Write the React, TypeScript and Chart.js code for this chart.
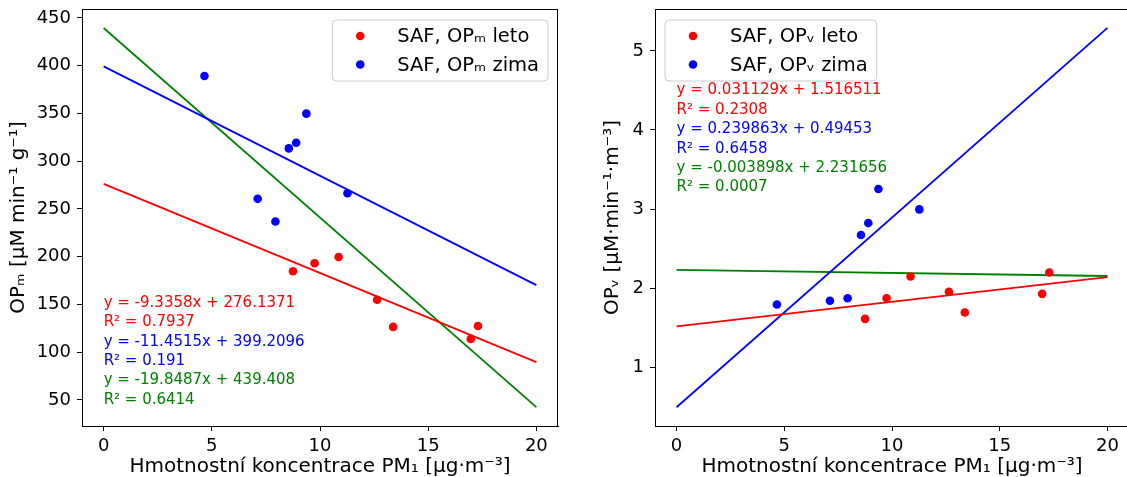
import React, { useEffect, useRef } from "react";
import { Chart, registerables } from "chart.js";

Chart.register(...registerables);

const FONT = "'DejaVu Sans', 'Liberation Sans', sans-serif";

// ---------- data ----------
const xTicks = [0, 5, 10, 15, 20];
const opmTicks = [50, 100, 150, 200, 250, 300, 350, 400, 450];
const opvTicks = [1, 2, 3, 4, 5];

const pmLeto = [8.75, 9.75, 10.86, 12.64, 13.38, 16.97, 17.3];
const pmZima = [4.66, 7.12, 7.94, 8.56, 8.9, 9.37, 11.27];

const opmLeto = [184.6, 193.0, 199.6, 154.8, 126.4, 113.8, 127.4];
const opmZima = [389.2, 260.5, 236.7, 313.3, 319.2, 349.7, 266.4];

const opvLeto = [1.612, 1.873, 2.148, 1.954, 1.692, 1.928, 2.198];
const opvZima = [1.793, 1.84, 1.873, 2.672, 2.823, 3.253, 2.996];

const fitX = [0, 20];
const opmFitLeto = [276.14, 89.42];
const opmFitZima = [399.21, 170.18];
const opmFitAll = [439.41, 42.43];
const opvFitLeto = [1.5165, 2.1391];
const opvFitZima = [0.4945, 5.2918];
const opvFitAll = [2.2317, 2.1537];

const opmNotes = [
  "y = -9.3358x + 276.1371",
  "R² = 0.7937",
  "y = -11.4515x + 399.2096",
  "R² = 0.191",
  "y = -19.8487x + 439.408",
  "R² = 0.6414",
];
const opvNotes = [
  "y = 0.031129x + 1.516511",
  "R² = 0.2308",
  "y = 0.239863x + 0.49453",
  "R² = 0.6458",
  "y = -0.003898x + 2.231656",
  "R² = 0.0007",
];

const opmLabels = ["SAF, OPₘ leto", "SAF, OPₘ zima"];
const opvLabels = ["SAF, OPᵥ leto", "SAF, OPᵥ zima"];

const xTitle = "Hmotnostní koncentrace PM₁ [µg·m⁻³]";
const opmTitle = "OPₘ [µM min⁻¹ g⁻¹]";
const opvTitle = "OPᵥ [µM·min⁻¹·m⁻³]";

// ---------- styles ----------
const RED = "#ff0000";
const BLUE = "#0000ff";
const GREEN = "#008000";
const noteColors = [RED, RED, BLUE, BLUE, GREEN, GREEN];

type PanelSpec = {
  yMin: number;
  yMax: number;
  yTicks: number[];
  yTitle: string;
  yTitlePad: number;
  yAxisWidth: number;
  padRight: number;
  labels: string[];
  leto: number[];
  zima: number[];
  fits: number[][];
  notes: string[];
  noteAnchor: [number, number];
  legendSide: "left" | "right";
};

const pts = (xs: number[], ys: number[]) => xs.map((x, i) => ({ x, y: ys[i] }));

function zeroPad(sc: any) {
  sc.paddingTop = 0;
  sc.paddingBottom = 0;
  sc.paddingLeft = 0;
  sc.paddingRight = 0;
}

function buildConfig(s: PanelSpec): any {
  const fitColors = [RED, BLUE, GREEN];
  const datasets: any[] = [
    {
      label: s.labels[0],
      data: pts(pmLeto, s.leto),
      backgroundColor: RED,
      pointBackgroundColor: RED,
      pointBorderWidth: 0,
      pointRadius: 4.3,
      pointHoverRadius: 4.3,
      showLine: false,
      order: 1,
      isLegend: true,
    },
    {
      label: s.labels[1],
      data: pts(pmZima, s.zima),
      backgroundColor: BLUE,
      pointBackgroundColor: BLUE,
      pointBorderWidth: 0,
      pointRadius: 4.3,
      pointHoverRadius: 4.3,
      showLine: false,
      order: 1,
      isLegend: true,
    },
    ...s.fits.map((f, i) => ({
      label: "fit" + i,
      data: pts(fitX, f),
      borderColor: fitColors[i],
      borderWidth: 1.8,
      pointRadius: 0,
      pointHoverRadius: 0,
      showLine: true,
      fill: false,
      order: 2,
    })),
  ];

  const framePlugin = {
    id: "frame",
    afterDatasetsDraw(chart: any) {
      const { ctx, chartArea: a } = chart;
      ctx.save();
      ctx.strokeStyle = "#000";
      ctx.lineWidth = 1;
      ctx.strokeRect(
        Math.round(a.left) + 0.5,
        Math.round(a.top) + 0.5,
        Math.round(a.right - a.left) - 1,
        Math.round(a.bottom - a.top)
      );
      ctx.restore();
    },
  };

  const notesPlugin = {
    id: "notes",
    afterDatasetsDraw(chart: any) {
      const { ctx, scales } = chart;
      const x0 = scales.x.getPixelForValue(s.noteAnchor[0]);
      const y0 = scales.y.getPixelForValue(s.noteAnchor[1]);
      ctx.save();
      ctx.font = `15px ${FONT}`;
      ctx.textAlign = "left";
      ctx.textBaseline = "middle";
      s.notes.forEach((t, i) => {
        ctx.fillStyle = noteColors[i];
        ctx.fillText(t, x0, y0 + i * 19.4);
      });
      ctx.restore();
    },
  };

  const legendPlugin = {
    id: "mplLegend",
    afterDraw(chart: any) {
      const { ctx, chartArea: a } = chart;
      const items = chart.data.datasets.filter((d: any) => d.isLegend);
      ctx.save();
      ctx.font = `19.5px ${FONT}`;
      const tw = Math.max(...items.map((d: any) => ctx.measureText(d.label).width));
      const w = 65 + tw + 9;
      const h = 61;
      const left = s.legendSide === "right" ? a.right - 10 - w : a.left + 10;
      const top = a.top + 11;
      const r = 4;
      ctx.beginPath();
      ctx.moveTo(left + r, top);
      ctx.lineTo(left + w - r, top);
      ctx.quadraticCurveTo(left + w, top, left + w, top + r);
      ctx.lineTo(left + w, top + h - r);
      ctx.quadraticCurveTo(left + w, top + h, left + w - r, top + h);
      ctx.lineTo(left + r, top + h);
      ctx.quadraticCurveTo(left, top + h, left, top + h - r);
      ctx.lineTo(left, top + r);
      ctx.quadraticCurveTo(left, top, left + r, top);
      ctx.closePath();
      ctx.fillStyle = "rgba(255,255,255,0.8)";
      ctx.fill();
      ctx.strokeStyle = "#cccccc";
      ctx.lineWidth = 1;
      ctx.stroke();
      items.forEach((d: any, i: number) => {
        const cy = top + 16 + i * 28.5;
        ctx.beginPath();
        ctx.arc(left + 28, cy, 4.3, 0, Math.PI * 2);
        ctx.fillStyle = d.backgroundColor;
        ctx.fill();
        ctx.fillStyle = "#000";
        ctx.textAlign = "left";
        ctx.textBaseline = "middle";
        ctx.fillText(d.label, left + 65, cy + 1);
      });
      ctx.restore();
    },
  };

  return {
    type: "scatter",
    data: { datasets },
    plugins: [framePlugin, notesPlugin, legendPlugin],
    options: {
      animation: false,
      responsive: false,
      devicePixelRatio: 1,
      events: [],
      layout: { padding: { left: 0, right: s.padRight, top: 9, bottom: 0 } },
      plugins: {
        legend: { display: false },
        tooltip: { enabled: false },
        title: { display: false },
      },
      scales: {
        x: {
          type: "linear",
          min: -1,
          max: 21,
          afterBuildTicks: (sc: any) => {
            sc.ticks = xTicks.map((v) => ({ value: v }));
          },
          afterFit: (sc: any) => {
            sc.height = 51;
            zeroPad(sc);
          },
          grid: {
            drawOnChartArea: false,
            drawTicks: true,
            tickLength: 5,
            tickColor: "#000",
            tickWidth: 1,
          },
          border: { display: true, color: "#000", width: 1 },
          ticks: {
            color: "#000",
            font: { family: FONT, size: 18 },
            padding: 5,
            maxRotation: 0,
            autoSkip: false,
          },
          title: {
            display: true,
            text: xTitle,
            color: "#000",
            font: { family: FONT, size: 20 },
            padding: { top: 0, bottom: -2 },
          },
        },
        y: {
          type: "linear",
          min: s.yMin,
          max: s.yMax,
          afterBuildTicks: (sc: any) => {
            sc.ticks = s.yTicks.map((v) => ({ value: v }));
          },
          afterFit: (sc: any) => {
            sc.width = s.yAxisWidth;
            zeroPad(sc);
          },
          grid: {
            drawOnChartArea: false,
            drawTicks: true,
            tickLength: 5,
            tickColor: "#000",
            tickWidth: 1,
          },
          border: { display: true, color: "#000", width: 1 },
          ticks: {
            color: "#000",
            font: { family: FONT, size: 18 },
            padding: 6,
            autoSkip: false,
          },
          title: {
            display: true,
            text: s.yTitle,
            color: "#000",
            font: { family: FONT, size: 20 },
            padding: { top: s.yTitlePad, bottom: 0 },
          },
        },
      },
    },
  };
}

const leftSpec: PanelSpec = {
  yMin: 22.6,
  yMax: 459.3,
  yTicks: opmTicks,
  yTitle: opmTitle,
  yTitlePad: 7,
  yAxisWidth: 82,
  padRight: 7,
  labels: opmLabels,
  leto: opmLeto,
  zima: opmZima,
  fits: [opmFitLeto, opmFitZima, opmFitAll],
  notes: opmNotes,
  noteAnchor: [0, 151.6],
  legendSide: "right",
};

const rightSpec: PanelSpec = {
  yMin: 0.257,
  yMax: 5.53,
  yTicks: opvTicks,
  yTitle: opvTitle,
  yTitlePad: 31,
  yAxisWidth: 85,
  padRight: 6,
  labels: opvLabels,
  leto: opvLeto,
  zima: opvZima,
  fits: [opvFitLeto, opvFitZima, opvFitAll],
  notes: opvNotes,
  noteAnchor: [0, 4.5],
  legendSide: "left",
};

function Panel({ spec, left, width }: { spec: PanelSpec; left: number; width: number }) {
  const ref = useRef<HTMLCanvasElement>(null);
  useEffect(() => {
    const chart = new Chart(ref.current as HTMLCanvasElement, buildConfig(spec));
    return () => chart.destroy();
  }, []);
  return (
    <canvas
      ref={ref}
      width={width}
      height={477}
      style={{ position: "absolute", left, top: 0, width, height: 477 }}
    />
  );
}

export default function App() {
  return (
    <div
      style={{
        position: "absolute",
        left: 0,
        top: 0,
        width: 1127,
        height: 477,
        overflow: "hidden",
        background: "#fff",
      }}
    >
      <Panel spec={leftSpec} left={0} width={565} />
      <Panel spec={rightSpec} left={570} width={565} />
    </div>
  );
}
